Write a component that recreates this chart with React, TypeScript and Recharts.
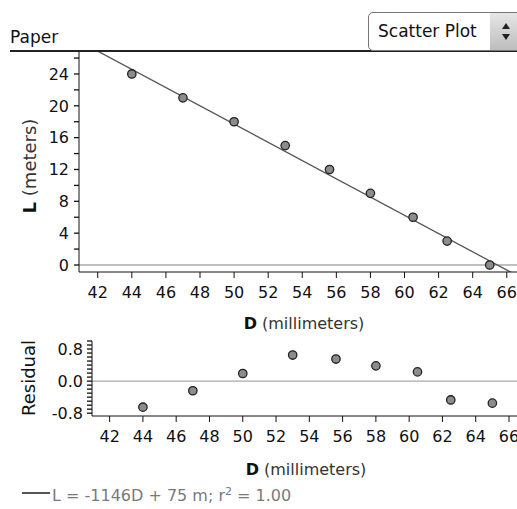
import React from "react";
import { ScatterChart, Scatter, XAxis, YAxis, ReferenceLine } from "recharts";

const FONT = '"DejaVu Sans", Verdana, sans-serif';

// paper strips: diameter D (mm) vs length L (m)
const diameters = [44, 47, 50, 53, 55.6, 58, 60.5, 62.5, 65];
const lengths = [24, 21, 18, 15, 12, 9, 6, 3, 0];
const residuals = [-0.65, -0.24, 0.19, 0.65, 0.55, 0.38, 0.23, -0.47, -0.55];

const xTicks = [42, 44, 46, 48, 50, 52, 54, 56, 58, 60, 62, 64, 66];
const lTicks = [0, 2, 4, 6, 8, 10, 12, 14, 16, 18, 20, 22, 24, 26];
const lLabels = [0, 4, 8, 12, 16, 20, 24];
const resTicks = [-0.8, -0.7, -0.6, -0.5, -0.4, -0.3, -0.2, -0.1, 0, 0.1, 0.2, 0.3, 0.4, 0.5, 0.6, 0.7, 0.8, 0.9, 1.0];
const resLabels = [-0.8, 0, 0.8];

// least squares line L = -1.146D + 75
const fitSlope = -1.146;
const fitIntercept = 75;
const fitRange = [40, 68];

const topData = diameters.map((d, i) => ({ d, l: lengths[i] }));
const resData = diameters.map((d, i) => ({ d, r: residuals[i] }));
const fitSegment = fitRange.map((d) => ({ x: d, y: fitSlope * d + fitIntercept }));

const Dot = (props: any) => (
  <circle cx={props.cx} cy={props.cy} r={4.2} fill="#8c8c8c" stroke="#222" strokeWidth={1.3} />
);

const makeYTick = (labels: number[], gap: number, digits: number) => (props: any) => {
  const { x, y, payload } = props;
  const v = payload.value;
  const show = labels.some((l) => Math.abs(l - v) < 1e-6);
  return (
    <g>
      <line x1={x - 5} x2={x} y1={y} y2={y} stroke="#111" strokeWidth={1.3} />
      {show && (
        <text x={x - gap} y={y} dy="0.36em" textAnchor="end" fill="#111" fontSize={16} fontFamily={FONT}>
          {v.toFixed(digits)}
        </text>
      )}
    </g>
  );
};

const xTickStyle = { fill: "#111", fontSize: 16, fontFamily: FONT };

const abs = (style: React.CSSProperties): React.CSSProperties => ({ position: "absolute", ...style });

const AxisTitle = ({ bold, rest, style }: { bold: string; rest: string; style: React.CSSProperties }) => (
  <div style={abs({ whiteSpace: "nowrap", fontFamily: FONT, color: "#111", ...style })}>
    <b>{bold}</b>
    <span style={{ color: "#333" }}> {rest}</span>
  </div>
);

export default function App() {
  return (
    <div style={abs({ left: 0, top: 0, width: 517, height: 509, background: "#fff", overflow: "hidden", fontFamily: FONT })}>
      {/* header */}
      <div style={abs({ left: 10, top: 27, fontSize: 17, color: "#111", lineHeight: "20px" })}>Paper</div>
      <div style={abs({ left: 10, top: 50, width: 507, height: 2, background: "#222" })} />
      <div
        style={abs({
          left: 368,
          top: 12,
          width: 160,
          height: 37,
          border: "1px solid #777",
          borderRadius: 5,
          background: "#fff",
        })}
      >
        <div style={abs({ left: 9, top: 8, fontSize: 17, color: "#111", lineHeight: "20px" })}>Scatter Plot</div>
        <div style={abs({ left: 121, top: 0, width: 40, height: 37, background: "linear-gradient(#e6e6e6, #bdbdbd)" })}>
          <div style={abs({ left: 12, top: 10, width: 0, height: 0, borderLeft: "4px solid transparent", borderRight: "4px solid transparent", borderBottom: "6px solid #222" })} />
          <div style={abs({ left: 12, top: 21, width: 0, height: 0, borderLeft: "4px solid transparent", borderRight: "4px solid transparent", borderTop: "6px solid #222" })} />
        </div>
      </div>

      {/* main scatter plot */}
      <div style={abs({ left: 0, top: 0 })}>
        <ScatterChart width={517} height={310} margin={{ top: 52, right: 0, bottom: 0, left: 0 }}>
          <XAxis
            type="number"
            dataKey="d"
            domain={[40.9, 66.6]}
            allowDataOverflow
            ticks={xTicks}
            interval={0}
            height={38}
            tickSize={6}
            tickMargin={9}
            stroke="#111"
            tick={xTickStyle}
          />
          <YAxis
            type="number"
            dataKey="l"
            domain={[-0.88, 26.76]}
            allowDataOverflow
            ticks={lTicks}
            interval={0}
            width={79}
            tickLine={false}
            tickSize={0}
            tickMargin={0}
            stroke="#111"
            tick={makeYTick(lLabels, 10, 0)}
          />
          <ReferenceLine y={0} stroke="#aaa" strokeWidth={1.3} />
          <ReferenceLine segment={fitSegment} stroke="#555" strokeWidth={1.3} ifOverflow="hidden" />
          <Scatter data={topData} isAnimationActive={false} shape={Dot} />
        </ScatterChart>
      </div>

      {/* residual plot */}
      <div style={abs({ left: 0, top: 300 })}>
        <ScatterChart width={517} height={156} margin={{ top: 41, right: 0, bottom: 0, left: 0 }}>
          <XAxis
            type="number"
            dataKey="d"
            domain={[40.94, 66.48]}
            allowDataOverflow
            ticks={xTicks}
            interval={0}
            height={40}
            tickSize={6}
            tickMargin={9}
            stroke="#111"
            tick={xTickStyle}
          />
          <YAxis
            type="number"
            dataKey="r"
            domain={[-0.87, 1.0]}
            allowDataOverflow
            ticks={resTicks}
            interval={0}
            width={92}
            tickLine={false}
            tickSize={0}
            tickMargin={0}
            stroke="#111"
            tick={makeYTick(resLabels, 9, 1)}
          />
          <ReferenceLine y={0} stroke="#aaa" strokeWidth={1.3} />
          <Scatter data={resData} isAnimationActive={false} shape={Dot} />
        </ScatterChart>
      </div>

      {/* axis titles */}
      <AxisTitle bold="D" rest="(millimeters)" style={{ left: 304, top: 314, fontSize: 16, transform: "translateX(-50%)" }} />
      <AxisTitle bold="D" rest="(millimeters)" style={{ left: 306, top: 460, fontSize: 16, transform: "translateX(-50%)" }} />
      <AxisTitle
        bold="L"
        rest="(meters)"
        style={{ left: 29, top: 166, fontSize: 18, transform: "translate(-50%, -50%) rotate(-90deg)" }}
      />
      <div
        style={abs({
          left: 28,
          top: 378,
          fontSize: 18,
          color: "#111",
          whiteSpace: "nowrap",
          transform: "translate(-50%, -50%) rotate(-90deg)",
        })}
      >
        Residual
      </div>

      {/* legend */}
      <div style={abs({ left: 22, top: 492, width: 28, height: 2, background: "#555" })} />
      <div style={abs({ left: 52, top: 482, fontSize: 16, color: "#7a7a7a", whiteSpace: "nowrap", lineHeight: "20px" })}>
        L = -1146D + 75 m; r<sup style={{ fontSize: 11 }}>2</sup> = 1.00
      </div>
    </div>
  );
}
